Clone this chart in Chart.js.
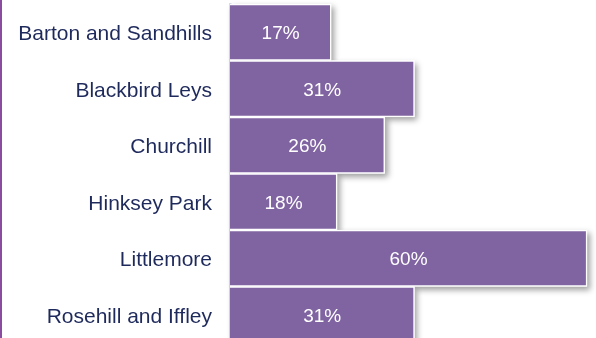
<!DOCTYPE html>
<html>
<head>
  <meta charset="UTF-8">
  <title>Wards</title>
  <script src="https://cdn.jsdelivr.net/npm/chart.js@4.4.0/dist/chart.umd.min.js"></script>
  <style>
    html, body { margin: 0; padding: 0; background: #fff; overflow: hidden; }
    #wrap { position: relative; width: 594px; height: 344px; border-left: 2px solid #8a4c9f; }
  </style>
</head>
<body>
<div id="wrap"><canvas id="myChart"></canvas></div>
<script>
  var wards = ["Barton and Sandhills", "Blackbird Leys", "Churchill", "Hinksey Park", "Littlemore", "Rosehill and Iffley"];
  var percents = [17, 31, 26, 18, 60, 31];

  var barColor = "#8064a2";
  var labelFont = "19px Arial, 'Liberation Sans', sans-serif";

  // soft grey drop shadow behind each bar
  var barShadow = {
    id: "barShadow",
    beforeDatasetsDraw: function(chart) {
      var ctx = chart.ctx;
      ctx.save();
      ctx.shadowColor = "rgba(0,0,0,0.38)";
      ctx.shadowBlur = 6;
      ctx.shadowOffsetX = 3;
      ctx.shadowOffsetY = 3;
      ctx.fillStyle = "#fff";
      chart.getDatasetMeta(0).data.forEach(function(bar) {
        var p = bar.getProps(["x", "y", "base", "height"], true);
        ctx.fillRect(p.base, p.y - p.height / 2, p.x - p.base, p.height);
      });
      ctx.restore();
    }
  };

  // percentage written in the middle of each bar
  var barValues = {
    id: "barValues",
    afterDatasetsDraw: function(chart) {
      var ctx = chart.ctx;
      ctx.save();
      ctx.font = labelFont;
      ctx.fillStyle = "#fff";
      ctx.textAlign = "center";
      ctx.textBaseline = "middle";
      chart.getDatasetMeta(0).data.forEach(function(bar, i) {
        var p = bar.getProps(["x", "y", "base"], true);
        ctx.fillText(percents[i] + "%", (p.x + p.base) / 2, p.y + 2);
      });
      ctx.restore();
    }
  };

  new Chart(document.getElementById("myChart"), {
    type: "bar",
    data: {
      labels: wards,
      datasets: [{
        data: percents,
        backgroundColor: barColor,
        borderColor: "#fff",
        borderWidth: 1.5,
        borderSkipped: "start",
        barPercentage: 1,
        categoryPercentage: 1
      }]
    },
    options: {
      indexAxis: "y",
      responsive: true,
      maintainAspectRatio: false,
      animation: false,
      layout: { padding: { top: 4, bottom: 1, left: 0, right: 0 } },
      plugins: {
        legend: { display: false },
        tooltip: { enabled: false }
      },
      scales: {
        x: {
          display: false,
          min: 0,
          max: 61.5
        },
        y: {
          afterFit: function(axis) {
            axis.width = 228;
            // no extra room above/below for the end labels
            axis.paddingTop = 0;
            axis.paddingBottom = 0;
          },
          grid: { display: true, drawOnChartArea: false, drawTicks: false },
          border: { display: true, color: "#d9dfe9", width: 2.5 },
          ticks: {
            padding: 18,
            labelOffset: 2,
            color: "#1f2a5c",
            font: { family: "Arial, 'Liberation Sans', sans-serif", size: 21 }
          }
        }
      }
    },
    plugins: [barShadow, barValues]
  });
</script>
</body>
</html>
